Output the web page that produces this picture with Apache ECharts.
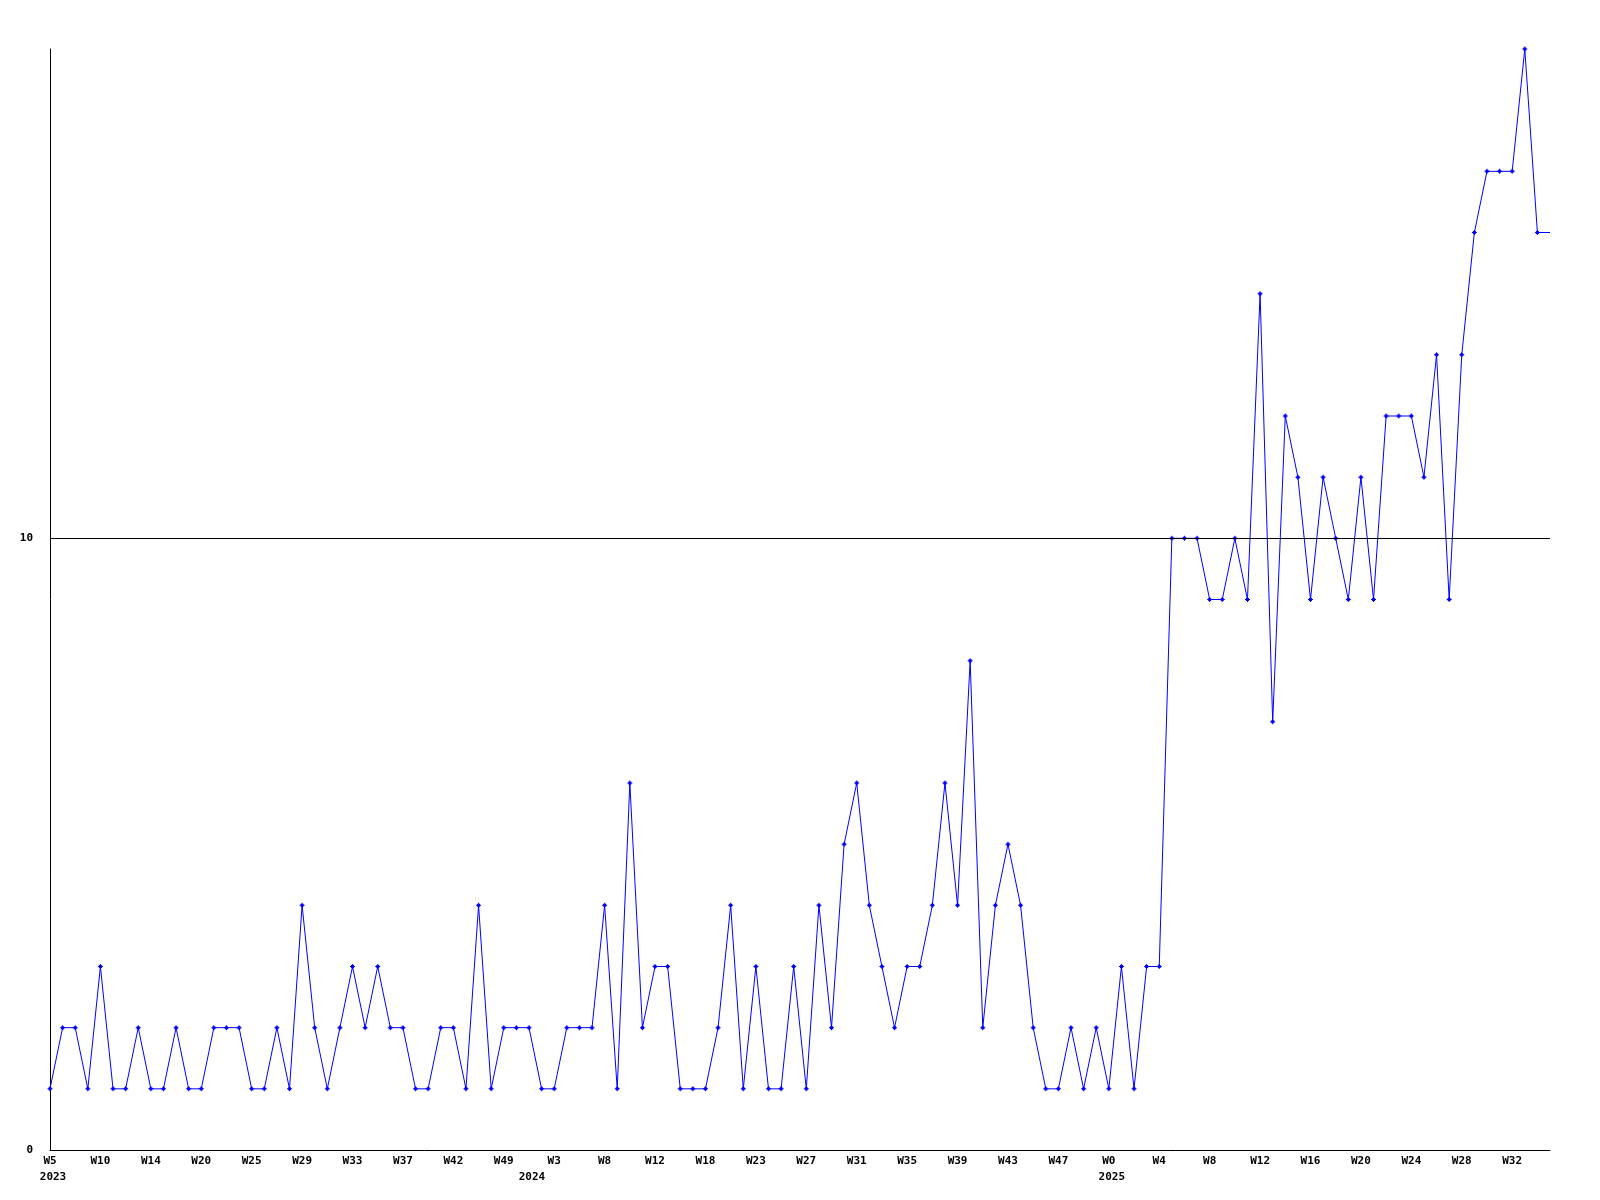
<!DOCTYPE html>
<html>
<head>
<meta charset="utf-8">
<script src="https://cdn.jsdelivr.net/npm/echarts@6/dist/echarts.min.js"></script>
<style>
  html, body { margin: 0; padding: 0; background: #ffffff; }
  #chart { width: 1600px; height: 1200px; }
</style>
</head>
<body>
<div id="chart"></div>
<script>
// Weekly values, one per week (index 0 .. 119)
const values = [
  1,2,2,1,3,1,1,2,1,1,2,1,1,2,2,2,1,1,2,1,4,
  2,1,2,3,2,3,2,2,1,1,2,2,1,4,1,2,2,2,1,1,2,
  2,2,4,1,6,2,3,3,1,1,1,2,4,1,3,1,1,3,1,4,
  2,5,6,4,3,2,3,3,4,6,4,8,2,4,5,4,2,1,1,2,1,
  2,1,3,1,3,3,10,10,10,9,9,10,9,14,7,12,11,9,11,10,9,
  11,9,12,12,12,11,13,9,13,15,16,16,16,18,15,15
];
// Week tick labels, one every 4 points
const weekLabels = ['W5','W10','W14','W20','W25','W29','W33','W37','W42','W49',
  'W3','W8','W12','W18','W23','W27','W31','W35','W39','W43','W47',
  'W0','W4','W8','W12','W16','W20','W24','W28','W32'];
const weekLabelStep = 4;
// Year labels and the point index they sit under
const yearLabels = ['2023','2024','2025'];
const yearIndex = [0, 38, 84];
const yAxisMax = 18;
const refLine = 10;

const categories = values.map((v, i) => String(i));
const seriesData = values.map((v, i) =>
  i === values.length - 1 ? { value: v, symbol: 'none' } : v);

const font = 'DejaVu Sans Mono';
const chart = echarts.init(document.getElementById('chart'), null, { renderer: 'canvas' });
chart.setOption({
  animation: false,
  backgroundColor: '#ffffff',
  grid: { left: 50, right: 50, top: 49, bottom: 50, containLabel: false },
  xAxis: [
    {
      type: 'category',
      data: categories,
      boundaryGap: false,
      position: 'bottom',
      axisLine: { show: true, lineStyle: { color: '#000', width: 1 } },
      axisTick: { show: false },
      splitLine: { show: false },
      axisLabel: {
        interval: 0,
        margin: 6,
        color: '#000',
        fontFamily: font,
        fontWeight: 'bold',
        fontSize: 11,
        formatter: (val, idx) => (idx % weekLabelStep === 0 ? (weekLabels[idx / weekLabelStep] || '') : '')
      }
    },
    {
      type: 'category',
      data: categories,
      boundaryGap: false,
      position: 'bottom',
      axisLine: { show: false },
      axisTick: { show: false },
      splitLine: { show: false },
      axisLabel: {
        interval: 0,
        margin: 22,
        color: '#000',
        fontFamily: font,
        fontWeight: 'bold',
        fontSize: 11,
        padding: [0, 0, 0, 6],
        formatter: (val, idx) => {
          const k = yearIndex.indexOf(idx);
          return k >= 0 ? yearLabels[k] : '';
        }
      }
    }
  ],
  yAxis: {
    type: 'value',
    min: 0,
    max: yAxisMax,
    interval: 10,
    axisLine: { show: true, lineStyle: { color: '#000', width: 1 } },
    axisTick: { show: false },
    splitLine: { show: false },
    axisLabel: {
      margin: 17,
      color: '#000',
      fontFamily: font,
      fontWeight: 'bold',
      fontSize: 11,
      showMaxLabel: false,
      formatter: v => (v === yAxisMax ? '' : String(v))
    }
  },
  series: [{
    type: 'line',
    data: seriesData,
    xAxisIndex: 0,
    symbol: 'path://M2,0H3V1H4V2H5V3H4V4H3V5H2V4H1V3H0V2H1V1H2Z',
    symbolSize: 5,
    showAllSymbol: true,
    lineStyle: { color: '#0000ff', width: 1 },
    itemStyle: { color: '#0000ff', borderWidth: 0 },
    markLine: {
      silent: true,
      symbol: 'none',
      label: { show: false },
      lineStyle: { color: '#000', width: 1, type: 'solid' },
      data: [{ yAxis: refLine }]
    }
  }]
});
</script>
</body>
</html>
